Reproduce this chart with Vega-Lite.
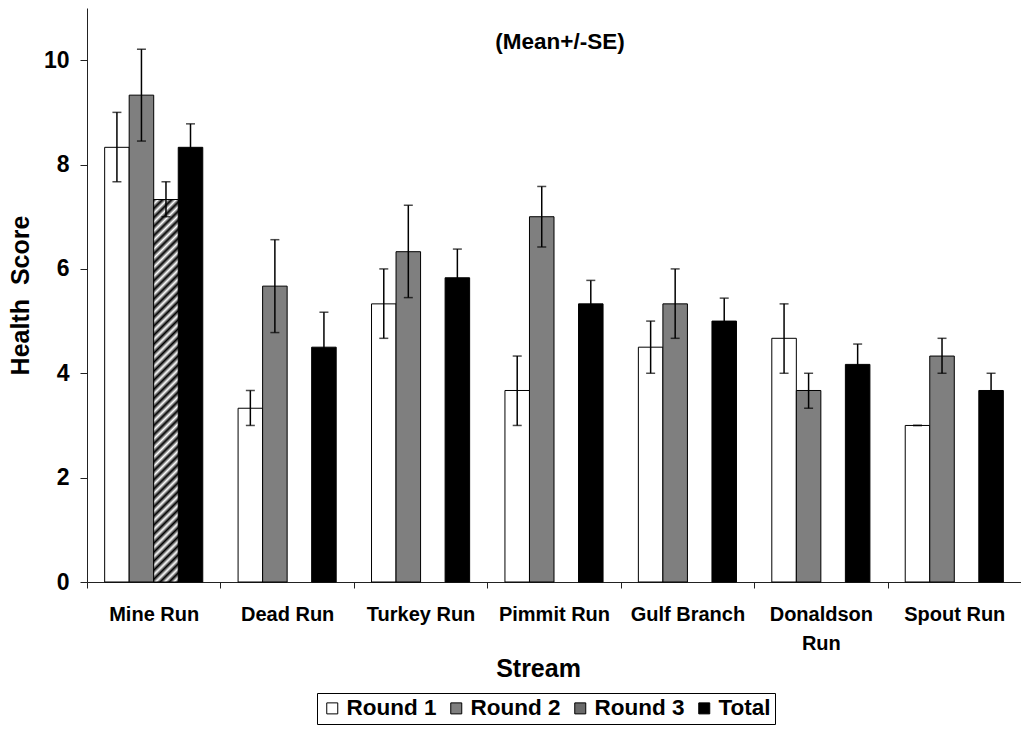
{
  "$schema": "https://vega.github.io/schema/vega-lite/v6.json",
  "autosize": "none",
  "width": 934,
  "height": 574,
  "padding": {"left": 87, "top": 8, "right": 0, "bottom": 149},
  "background": "white",
  "title": {"text": "(Mean+/-SE)", "fontSize": 22.5, "fontWeight": "bold", "font": "Liberation Sans", "color": "black", "anchor": "middle", "baseline": "middle", "orient": "top", "offset": 0, "dy": 56, "dx": 6},
  "config": {
    "view": {"stroke": null},
    "font": "Liberation Sans",
    "axis": {"grid": false, "domainColor": "#222", "tickColor": "#222", "labelColor": "black", "titleColor": "black", "labelFont": "Liberation Sans", "titleFont": "Liberation Sans", "labelFontWeight": "bold", "titleFontWeight": "bold"}
  },
  "data": {
    "values": [
      {"stream": "Mine Run", "series": "Round 1", "mean": 8.33, "lo": 7.67, "hi": 9.0},
      {"stream": "Mine Run", "series": "Round 2", "mean": 9.33, "lo": 8.45, "hi": 10.21},
      {"stream": "Mine Run", "series": "Round 3", "mean": 7.33, "lo": 7.0, "hi": 7.67},
      {"stream": "Mine Run", "series": "Total", "mean": 8.33, "lo": 7.89, "hi": 8.78},
      {"stream": "Dead Run", "series": "Round 1", "mean": 3.33, "lo": 3.0, "hi": 3.67},
      {"stream": "Dead Run", "series": "Round 2", "mean": 5.67, "lo": 4.78, "hi": 6.56},
      {"stream": "Dead Run", "series": "Total", "mean": 4.5, "lo": 3.83, "hi": 5.17},
      {"stream": "Turkey Run", "series": "Round 1", "mean": 5.33, "lo": 4.67, "hi": 6.0},
      {"stream": "Turkey Run", "series": "Round 2", "mean": 6.33, "lo": 5.45, "hi": 7.22},
      {"stream": "Turkey Run", "series": "Total", "mean": 5.83, "lo": 5.28, "hi": 6.38},
      {"stream": "Pimmit Run", "series": "Round 1", "mean": 3.67, "lo": 3.0, "hi": 4.33},
      {"stream": "Pimmit Run", "series": "Round 2", "mean": 7.0, "lo": 6.42, "hi": 7.58},
      {"stream": "Pimmit Run", "series": "Total", "mean": 5.33, "lo": 4.89, "hi": 5.78},
      {"stream": "Gulf Branch", "series": "Round 1", "mean": 4.5, "lo": 4.0, "hi": 5.0},
      {"stream": "Gulf Branch", "series": "Round 2", "mean": 5.33, "lo": 4.67, "hi": 6.0},
      {"stream": "Gulf Branch", "series": "Total", "mean": 5.0, "lo": 4.56, "hi": 5.44},
      {"stream": "Donaldson Run", "series": "Round 1", "mean": 4.67, "lo": 4.0, "hi": 5.33},
      {"stream": "Donaldson Run", "series": "Round 2", "mean": 3.67, "lo": 3.33, "hi": 4.0},
      {"stream": "Donaldson Run", "series": "Total", "mean": 4.17, "lo": 3.78, "hi": 4.56},
      {"stream": "Spout Run", "series": "Round 1", "mean": 3.0, "lo": 3.0, "hi": 3.0},
      {"stream": "Spout Run", "series": "Round 2", "mean": 4.33, "lo": 4.0, "hi": 4.67},
      {"stream": "Spout Run", "series": "Total", "mean": 3.67, "lo": 3.33, "hi": 4.0}
    ]
  },
  "encoding": {
    "x": {
      "field": "stream", "type": "nominal", "sort": null,
      "scale": {"paddingInner": 0, "paddingOuter": 0},
      "axis": {
        "title": "Stream", "titleFontSize": 25, "titlePadding": 3, "titleX": 451,
        "labelFontSize": 20, "labelAngle": 0, "labelPadding": 16, "labelLineHeight": 29,
        "labelExpr": "datum.label === 'Donaldson Run' ? ['Donaldson', 'Run'] : datum.label",
        "tickBand": "extent", "tickSize": 6, "labelBaseline": "top"
      }
    },
    "y": {
      "field": "mean", "type": "quantitative",
      "scale": {"domain": [0, 11], "nice": false},
      "axis": {"title": "Health\u00a0 Score", "titleFontSize": 25, "titlePadding": 10, "labelFontSize": 23, "labelPadding": 11, "tickSize": 7, "values": [0, 2, 4, 6, 8, 10]}
    }
  },
  "layer": [
    {
      "mark": {"type": "bar", "stroke": "black", "strokeWidth": 1},
      "encoding": {
        "xOffset": {"field": "series", "type": "nominal", "scale": {"domain": ["Round 1", "Round 2", "Round 3", "Total"], "paddingInner": 0, "paddingOuter": 0.72}},
        "fill": {
          "field": "series", "type": "nominal",
          "scale": {
            "domain": ["Round 1", "Round 2", "Round 3", "Total"],
            "range": ["white", "#7f7f7f", "#6a6a6a", "black"]
          },
          "legend": {
            "orient": "none", "legendX": 230, "legendY": 685, "direction": "horizontal", "columns": 4,
            "title": null, "strokeColor": "black", "padding": 4,
            "symbolType": "square", "symbolSize": 121, "symbolStrokeColor": "black", "symbolStrokeWidth": 1,
            "labelFontSize": 22.5, "labelFont": "Liberation Sans", "labelFontWeight": "bold", "labelColor": "black",
            "labelOffset": 3, "columnPadding": 8
          }
        }
      }
    },
    {
      "transform": [{"filter": "datum.series === 'Round 3'"}],
      "mark": {
        "type": "bar", "stroke": "black", "strokeWidth": 1,
        "fill": {"gradient": "linear", "x1": 0, "y1": 0, "x2": 0.06782, "y2": 1.0597, "stops": [
          {"offset": 0, "color": "#000"}, {"offset": 0.0111, "color": "#fff"}, {"offset": 0.0222, "color": "#000"}, {"offset": 0.0333, "color": "#fff"}, {"offset": 0.0444, "color": "#000"}, {"offset": 0.0556, "color": "#fff"}, {"offset": 0.0667, "color": "#000"}, {"offset": 0.0778, "color": "#fff"}, {"offset": 0.0889, "color": "#000"}, {"offset": 0.1, "color": "#fff"},
          {"offset": 0.1111, "color": "#000"}, {"offset": 0.1222, "color": "#fff"}, {"offset": 0.1333, "color": "#000"}, {"offset": 0.1444, "color": "#fff"}, {"offset": 0.1556, "color": "#000"}, {"offset": 0.1667, "color": "#fff"}, {"offset": 0.1778, "color": "#000"}, {"offset": 0.1889, "color": "#fff"}, {"offset": 0.2, "color": "#000"}, {"offset": 0.2111, "color": "#fff"},
          {"offset": 0.2222, "color": "#000"}, {"offset": 0.2333, "color": "#fff"}, {"offset": 0.2444, "color": "#000"}, {"offset": 0.2556, "color": "#fff"}, {"offset": 0.2667, "color": "#000"}, {"offset": 0.2778, "color": "#fff"}, {"offset": 0.2889, "color": "#000"}, {"offset": 0.3, "color": "#fff"}, {"offset": 0.3111, "color": "#000"}, {"offset": 0.3222, "color": "#fff"},
          {"offset": 0.3333, "color": "#000"}, {"offset": 0.3444, "color": "#fff"}, {"offset": 0.3556, "color": "#000"}, {"offset": 0.3667, "color": "#fff"}, {"offset": 0.3778, "color": "#000"}, {"offset": 0.3889, "color": "#fff"}, {"offset": 0.4, "color": "#000"}, {"offset": 0.4111, "color": "#fff"}, {"offset": 0.4222, "color": "#000"}, {"offset": 0.4333, "color": "#fff"},
          {"offset": 0.4444, "color": "#000"}, {"offset": 0.4556, "color": "#fff"}, {"offset": 0.4667, "color": "#000"}, {"offset": 0.4778, "color": "#fff"}, {"offset": 0.4889, "color": "#000"}, {"offset": 0.5, "color": "#fff"}, {"offset": 0.5111, "color": "#000"}, {"offset": 0.5222, "color": "#fff"}, {"offset": 0.5333, "color": "#000"}, {"offset": 0.5444, "color": "#fff"},
          {"offset": 0.5556, "color": "#000"}, {"offset": 0.5667, "color": "#fff"}, {"offset": 0.5778, "color": "#000"}, {"offset": 0.5889, "color": "#fff"}, {"offset": 0.6, "color": "#000"}, {"offset": 0.6111, "color": "#fff"}, {"offset": 0.6222, "color": "#000"}, {"offset": 0.6333, "color": "#fff"}, {"offset": 0.6444, "color": "#000"}, {"offset": 0.6556, "color": "#fff"},
          {"offset": 0.6667, "color": "#000"}, {"offset": 0.6778, "color": "#fff"}, {"offset": 0.6889, "color": "#000"}, {"offset": 0.7, "color": "#fff"}, {"offset": 0.7111, "color": "#000"}, {"offset": 0.7222, "color": "#fff"}, {"offset": 0.7333, "color": "#000"}, {"offset": 0.7444, "color": "#fff"}, {"offset": 0.7556, "color": "#000"}, {"offset": 0.7667, "color": "#fff"},
          {"offset": 0.7778, "color": "#000"}, {"offset": 0.7889, "color": "#fff"}, {"offset": 0.8, "color": "#000"}, {"offset": 0.8111, "color": "#fff"}, {"offset": 0.8222, "color": "#000"}, {"offset": 0.8333, "color": "#fff"}, {"offset": 0.8444, "color": "#000"}, {"offset": 0.8556, "color": "#fff"}, {"offset": 0.8667, "color": "#000"}, {"offset": 0.8778, "color": "#fff"},
          {"offset": 0.8889, "color": "#000"}, {"offset": 0.9, "color": "#fff"}, {"offset": 0.9111, "color": "#000"}, {"offset": 0.9222, "color": "#fff"}, {"offset": 0.9333, "color": "#000"}, {"offset": 0.9444, "color": "#fff"}, {"offset": 0.9556, "color": "#000"}, {"offset": 0.9667, "color": "#fff"}, {"offset": 0.9778, "color": "#000"}, {"offset": 0.9889, "color": "#fff"},
          {"offset": 1, "color": "#000"}
        ]}
      },
      "encoding": {
        "xOffset": {"field": "series", "type": "nominal"}
      }
    },
    {
      "mark": {"type": "rule", "color": "black", "strokeWidth": 1.5},
      "encoding": {"xOffset": {"field": "series", "type": "nominal"}, "y": {"field": "lo", "type": "quantitative"}, "y2": {"field": "hi"}}
    },
    {
      "mark": {"type": "tick", "color": "black", "size": 9, "thickness": 1.5},
      "encoding": {"xOffset": {"field": "series", "type": "nominal"}, "y": {"field": "lo", "type": "quantitative"}}
    },
    {
      "mark": {"type": "tick", "color": "black", "size": 9, "thickness": 1.5},
      "encoding": {"xOffset": {"field": "series", "type": "nominal"}, "y": {"field": "hi", "type": "quantitative"}}
    }
  ]
}
